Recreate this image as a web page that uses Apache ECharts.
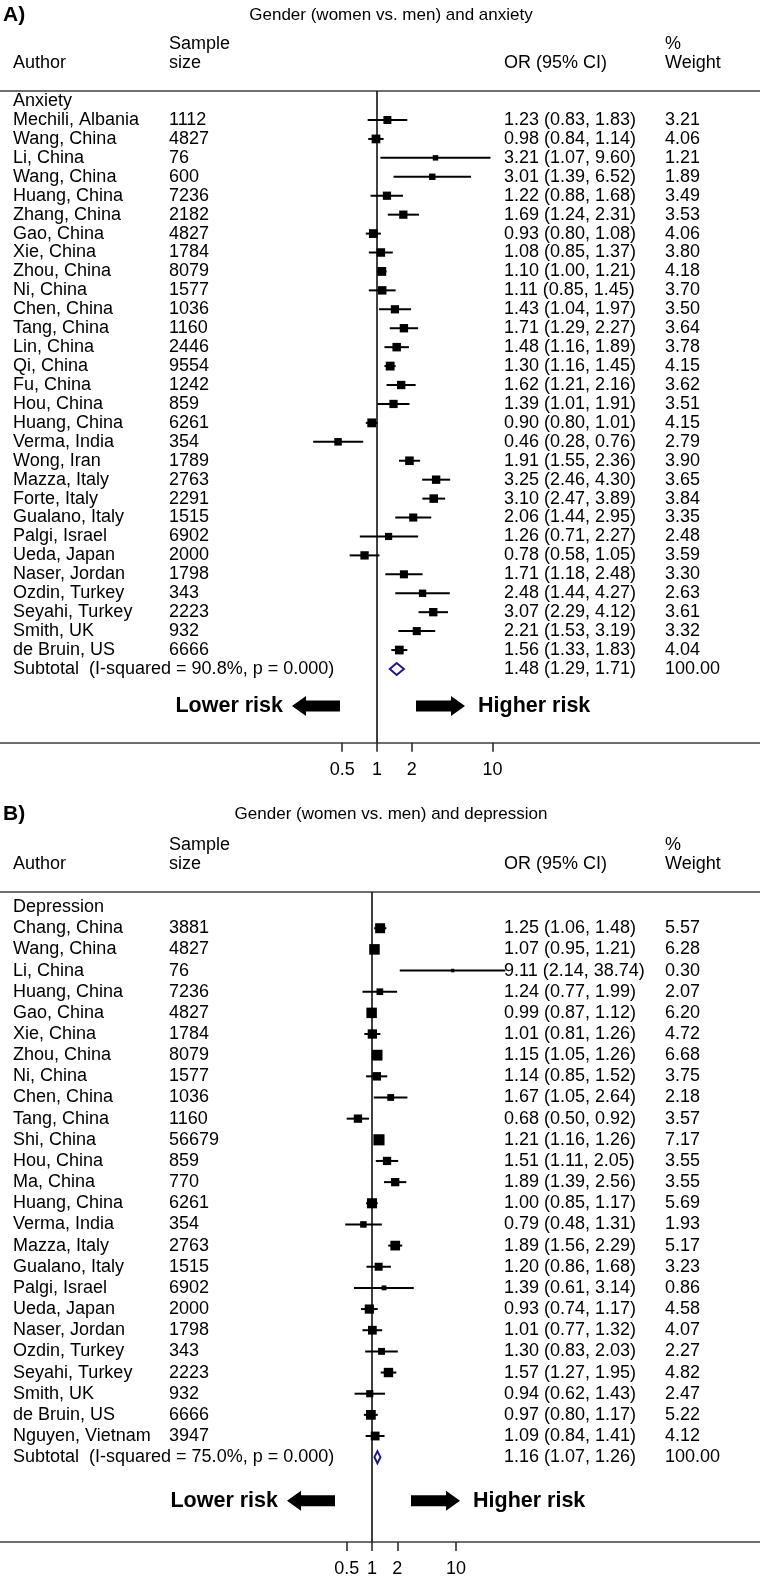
<!DOCTYPE html>
<html><head><meta charset="utf-8">
<script src="https://cdn.jsdelivr.net/npm/echarts@6/dist/echarts.min.js"></script>
<style>html,body{margin:0;padding:0;background:#fff}#c{width:760px;height:1578px}</style>
</head><body><div id="c"></div>
<script>
// ---------- Panel A: anxiety ----------
const authorsA = ["Mechili, Albania","Wang, China","Li, China","Wang, China","Huang, China","Zhang, China","Gao, China","Xie, China","Zhou, China","Ni, China","Chen, China","Tang, China","Lin, China","Qi, China","Fu, China","Hou, China","Huang, China","Verma, India","Wong, Iran","Mazza, Italy","Forte, Italy","Gualano, Italy","Palgi, Israel","Ueda, Japan","Naser, Jordan","Ozdin, Turkey","Seyahi, Turkey","Smith, UK","de Bruin, US"];
const sizesA = [1112,4827,76,600,7236,2182,4827,1784,8079,1577,1036,1160,2446,9554,1242,859,6261,354,1789,2763,2291,1515,6902,2000,1798,343,2223,932,6666];
const orA = [1.23,0.98,3.21,3.01,1.22,1.69,0.93,1.08,1.10,1.11,1.43,1.71,1.48,1.30,1.62,1.39,0.90,0.46,1.91,3.25,3.10,2.06,1.26,0.78,1.71,2.48,3.07,2.21,1.56];
const loA = [0.83,0.84,1.07,1.39,0.88,1.24,0.80,0.85,1.00,0.85,1.04,1.29,1.16,1.16,1.21,1.01,0.80,0.28,1.55,2.46,2.47,1.44,0.71,0.58,1.18,1.44,2.29,1.53,1.33];
const hiA = [1.83,1.14,9.60,6.52,1.68,2.31,1.08,1.37,1.21,1.45,1.97,2.27,1.89,1.45,2.16,1.91,1.01,0.76,2.36,4.30,3.89,2.95,2.27,1.05,2.48,4.27,4.12,3.19,1.83];
const weightA = [3.21,4.06,1.21,1.89,3.49,3.53,4.06,3.80,4.18,3.70,3.50,3.64,3.78,4.15,3.62,3.51,4.15,2.79,3.90,3.65,3.84,3.35,2.48,3.59,3.30,2.63,3.61,3.32,4.04];
const subtotalA = {label: "Subtotal  (I-squared = 90.8%, p = 0.000)", or: 1.48, lo: 1.29, hi: 1.71, weight: 100.00};

// ---------- Panel B: depression ----------
const authorsB = ["Chang, China","Wang, China","Li, China","Huang, China","Gao, China","Xie, China","Zhou, China","Ni, China","Chen, China","Tang, China","Shi, China","Hou, China","Ma, China","Huang, China","Verma, India","Mazza, Italy","Gualano, Italy","Palgi, Israel","Ueda, Japan","Naser, Jordan","Ozdin, Turkey","Seyahi, Turkey","Smith, UK","de Bruin, US","Nguyen, Vietnam"];
const sizesB = [3881,4827,76,7236,4827,1784,8079,1577,1036,1160,56679,859,770,6261,354,2763,1515,6902,2000,1798,343,2223,932,6666,3947];
const orB = [1.25,1.07,9.11,1.24,0.99,1.01,1.15,1.14,1.67,0.68,1.21,1.51,1.89,1.00,0.79,1.89,1.20,1.39,0.93,1.01,1.30,1.57,0.94,0.97,1.09];
const loB = [1.06,0.95,2.14,0.77,0.87,0.81,1.05,0.85,1.05,0.50,1.16,1.11,1.39,0.85,0.48,1.56,0.86,0.61,0.74,0.77,0.83,1.27,0.62,0.80,0.84];
const hiB = [1.48,1.21,38.74,1.99,1.12,1.26,1.26,1.52,2.64,0.92,1.26,2.05,2.56,1.17,1.31,2.29,1.68,3.14,1.17,1.32,2.03,1.95,1.43,1.17,1.41];
const weightB = [5.57,6.28,0.30,2.07,6.20,4.72,6.68,3.75,2.18,3.57,7.17,3.55,3.55,5.69,1.93,5.17,3.23,0.86,4.58,4.07,2.27,4.82,2.47,5.22,4.12];
const subtotalB = {label: "Subtotal  (I-squared = 75.0%, p = 0.000)", or: 1.16, lo: 1.07, hi: 1.26, weight: 100.00};

// ---------- Axis ticks ----------
const tickValues = [0.5, 1, 2, 10];

const FONT = '"Liberation Sans", Arial, Helvetica, sans-serif';
const fmt2 = v => v.toFixed(2);

const panels = [
  { tag: "A)", title: "Gender (women vs. men) and anxiety", group: "Anxiety",
    authors: authorsA, sizes: sizesA, or: orA, lo: loA, hi: hiA, w: weightA, sub: subtotalA,
    top: 91, axisY: 742.7, row0: 120, step: 18.93, arrowRow: 30.95,
    one: 377, decade: 115.5, titleY: 15, hdr1: 44, hdr2: 63 },
  { tag: "B)", title: "Gender (women vs. men) and depression", group: "Depression",
    authors: authorsB, sizes: sizesB, or: orB, lo: loB, hi: hiB, w: weightB, sub: subtotalB,
    top: 892, axisY: 1543.3, row0: 928.3, step: 21.2, arrowRow: 27.06,
    one: 372, decade: 84, titleY: 814, hdr1: 845, hdr2: 864 }
];

const grid = [], xAxis = [], yAxis = [], series = [], graphic = [];

panels.forEach((p, gi) => {
  const height = p.axisY - p.top;
  grid.push({ left: 0, right: 0, top: p.top, height: height, containLabel: false });
  const xmin = Math.pow(10, -p.one / p.decade);
  const xmax = Math.pow(10, (760 - p.one) / p.decade);
  xAxis.push({
    type: 'log', logBase: 10, gridIndex: gi, min: xmin, max: xmax, position: 'bottom',
    axisLine: { show: true, onZero: false, lineStyle: { color: '#6f6f6f', width: 2.2 } },
    axisTick: { show: true, customValues: tickValues, length: 9, inside: false, lineStyle: { color: '#222', width: 1.5 } },
    axisLabel: { show: true, customValues: tickValues, margin: 18, fontSize: 18, fontFamily: FONT, color: '#000',
                 formatter: v => String(v) },
    splitLine: { show: false }, minorTick: { show: false }
  });
  xAxis.push({
    type: 'value', gridIndex: gi, position: 'top', min: 0, max: 1,
    axisLine: { show: true, onZero: false, lineStyle: { color: '#6f6f6f', width: 2.2 } },
    axisTick: { show: false }, axisLabel: { show: false }, splitLine: { show: false }
  });
  const ymin = (p.top - p.row0) / p.step;
  const ymax = (p.axisY - p.row0) / p.step;
  yAxis.push({ type: 'value', gridIndex: gi, inverse: true, min: ymin, max: ymax, show: false,
               axisLine: { onZero: false }, splitLine: { show: false } });
  const xi = gi * 2, yi = gi;
  const n = p.authors.length;

  // reference line at OR = 1
  series.push({
    type: 'custom', xAxisIndex: xi, yAxisIndex: yi, clip: false, silent: true,
    data: [[1, ymin, ymax]], encode: { x: 0, y: 1 },
    renderItem: (params, api) => {
      const a = api.coord([api.value(0), api.value(1)]);
      const b = api.coord([api.value(0), api.value(2)]);
      return { type: 'line', shape: { x1: a[0], y1: a[1], x2: b[0], y2: b[1] },
               style: { stroke: '#111', lineWidth: 1.6 } };
    }
  });

  // study CIs and weighted squares
  const studyData = p.or.map((v, i) => [v, p.lo[i], p.hi[i], p.w[i], i]);
  series.push({
    type: 'custom', xAxisIndex: xi, yAxisIndex: yi, clip: false, silent: true,
    data: studyData, encode: { x: 0, y: 4 },
    renderItem: (params, api) => {
      const row = api.value(4);
      const l = api.coord([api.value(1), row]);
      const h = api.coord([api.value(2), row]);
      const c = api.coord([api.value(0), row]);
      const s = 1.5 + 3.6 * Math.sqrt(api.value(3));
      return { type: 'group', children: [
        { type: 'line', shape: { x1: l[0], y1: l[1], x2: h[0], y2: h[1] }, style: { stroke: '#000', lineWidth: 2 } },
        { type: 'rect', shape: { x: c[0] - s / 2, y: c[1] - s / 2, width: s, height: s }, style: { fill: '#000' } }
      ]};
    }
  });

  // pooled diamond
  series.push({
    type: 'custom', xAxisIndex: xi, yAxisIndex: yi, clip: false, silent: true,
    data: [[p.sub.or, p.sub.lo, p.sub.hi, n]], encode: { x: 0, y: 3 },
    renderItem: (params, api) => {
      const row = api.value(3);
      const c = api.coord([api.value(0), row]);
      const l = api.coord([api.value(1), row]);
      const h = api.coord([api.value(2), row]);
      const hh = 6;
      return { type: 'polygon', shape: { points: [[l[0], c[1]], [c[0], c[1] - hh], [h[0], c[1]], [c[0], c[1] + hh]] },
               style: { fill: '#fff', stroke: '#1a1a8a', lineWidth: 2 } };
    }
  });

  // text columns
  const rows = [[1, -1]];
  for (let i = 0; i <= n; i++) rows.push([1, i]);
  series.push({
    type: 'custom', xAxisIndex: xi, yAxisIndex: yi, clip: false, silent: true,
    data: rows, encode: { x: 0, y: 1 },
    renderItem: (params, api) => {
      const row = api.value(1);
      const y = api.coord([1, row])[1];
      const t = (x, text) => ({ type: 'text', x: x, y: y,
        style: { text: text, fill: '#000', fontSize: 18, fontFamily: FONT, align: 'left', verticalAlign: 'middle' } });
      if (row < 0) return t(13, p.group);
      if (row === n) return { type: 'group', children: [
        t(13, p.sub.label),
        t(504, fmt2(p.sub.or) + ' (' + fmt2(p.sub.lo) + ', ' + fmt2(p.sub.hi) + ')'),
        t(665, fmt2(p.sub.weight))
      ]};
      const i = row;
      return { type: 'group', children: [
        t(13, p.authors[i]),
        t(169, String(p.sizes[i])),
        t(504, fmt2(p.or[i]) + ' (' + fmt2(p.lo[i]) + ', ' + fmt2(p.hi[i]) + ')'),
        t(665, fmt2(p.w[i]))
      ]};
    }
  });

  // direction arrows
  series.push({
    type: 'custom', xAxisIndex: xi, yAxisIndex: yi, clip: false, silent: true,
    data: [[1, p.arrowRow]], encode: { x: 0, y: 1 },
    renderItem: (params, api) => {
      const c = api.coord([1, api.value(1)]);
      const x0 = c[0], y = c[1];
      const bh = 5.5, hh = 10, hl = 14;
      const lt = x0 - 85, lb = x0 - 37;
      const rt = x0 + 88, rb = x0 + 39;
      return { type: 'group', children: [
        { type: 'polygon', shape: { points: [[lt, y], [lt + hl, y - hh], [lt + hl, y - bh], [lb, y - bh], [lb, y + bh], [lt + hl, y + bh], [lt + hl, y + hh]] }, style: { fill: '#000' } },
        { type: 'polygon', shape: { points: [[rt, y], [rt - hl, y - hh], [rt - hl, y - bh], [rb, y - bh], [rb, y + bh], [rt - hl, y + bh], [rt - hl, y + hh]] }, style: { fill: '#000' } },
        { type: 'text', x: x0 - 94, y: y, style: { text: 'Lower risk', fill: '#000', fontSize: 21.5, fontWeight: 'bold', fontFamily: FONT, align: 'right', verticalAlign: 'middle' } },
        { type: 'text', x: x0 + 101, y: y, style: { text: 'Higher risk', fill: '#000', fontSize: 21.5, fontWeight: 'bold', fontFamily: FONT, align: 'left', verticalAlign: 'middle' } }
      ]};
    }
  });

  // headings
  const txt = (x, y, text, extra) => Object.assign({ type: 'text', x: x, y: y, silent: true,
    style: Object.assign({ text: text, fill: '#000', fontSize: 18, fontFamily: FONT,
      align: 'left', verticalAlign: 'middle', textAlign: 'left', textVerticalAlign: 'middle' }, extra || {}) });
  graphic.push(txt(3, p.titleY, p.tag, { fontWeight: 'bold', fontSize: 21 }));
  graphic.push(txt(391, p.titleY, p.title, { align: 'center', textAlign: 'center', fontSize: 17 }));
  graphic.push(txt(13, p.hdr2, 'Author'));
  graphic.push(txt(169, p.hdr1, 'Sample'));
  graphic.push(txt(169, p.hdr2, 'size'));
  graphic.push(txt(504, p.hdr2, 'OR (95% CI)'));
  graphic.push(txt(665, p.hdr1, '%'));
  graphic.push(txt(665, p.hdr2, 'Weight'));
});

const chart = echarts.init(document.getElementById('c'), null, { renderer: 'canvas' });
chart.setOption({ animation: false, backgroundColor: '#fff', grid, xAxis, yAxis, series, graphic });
</script>
</body></html>
